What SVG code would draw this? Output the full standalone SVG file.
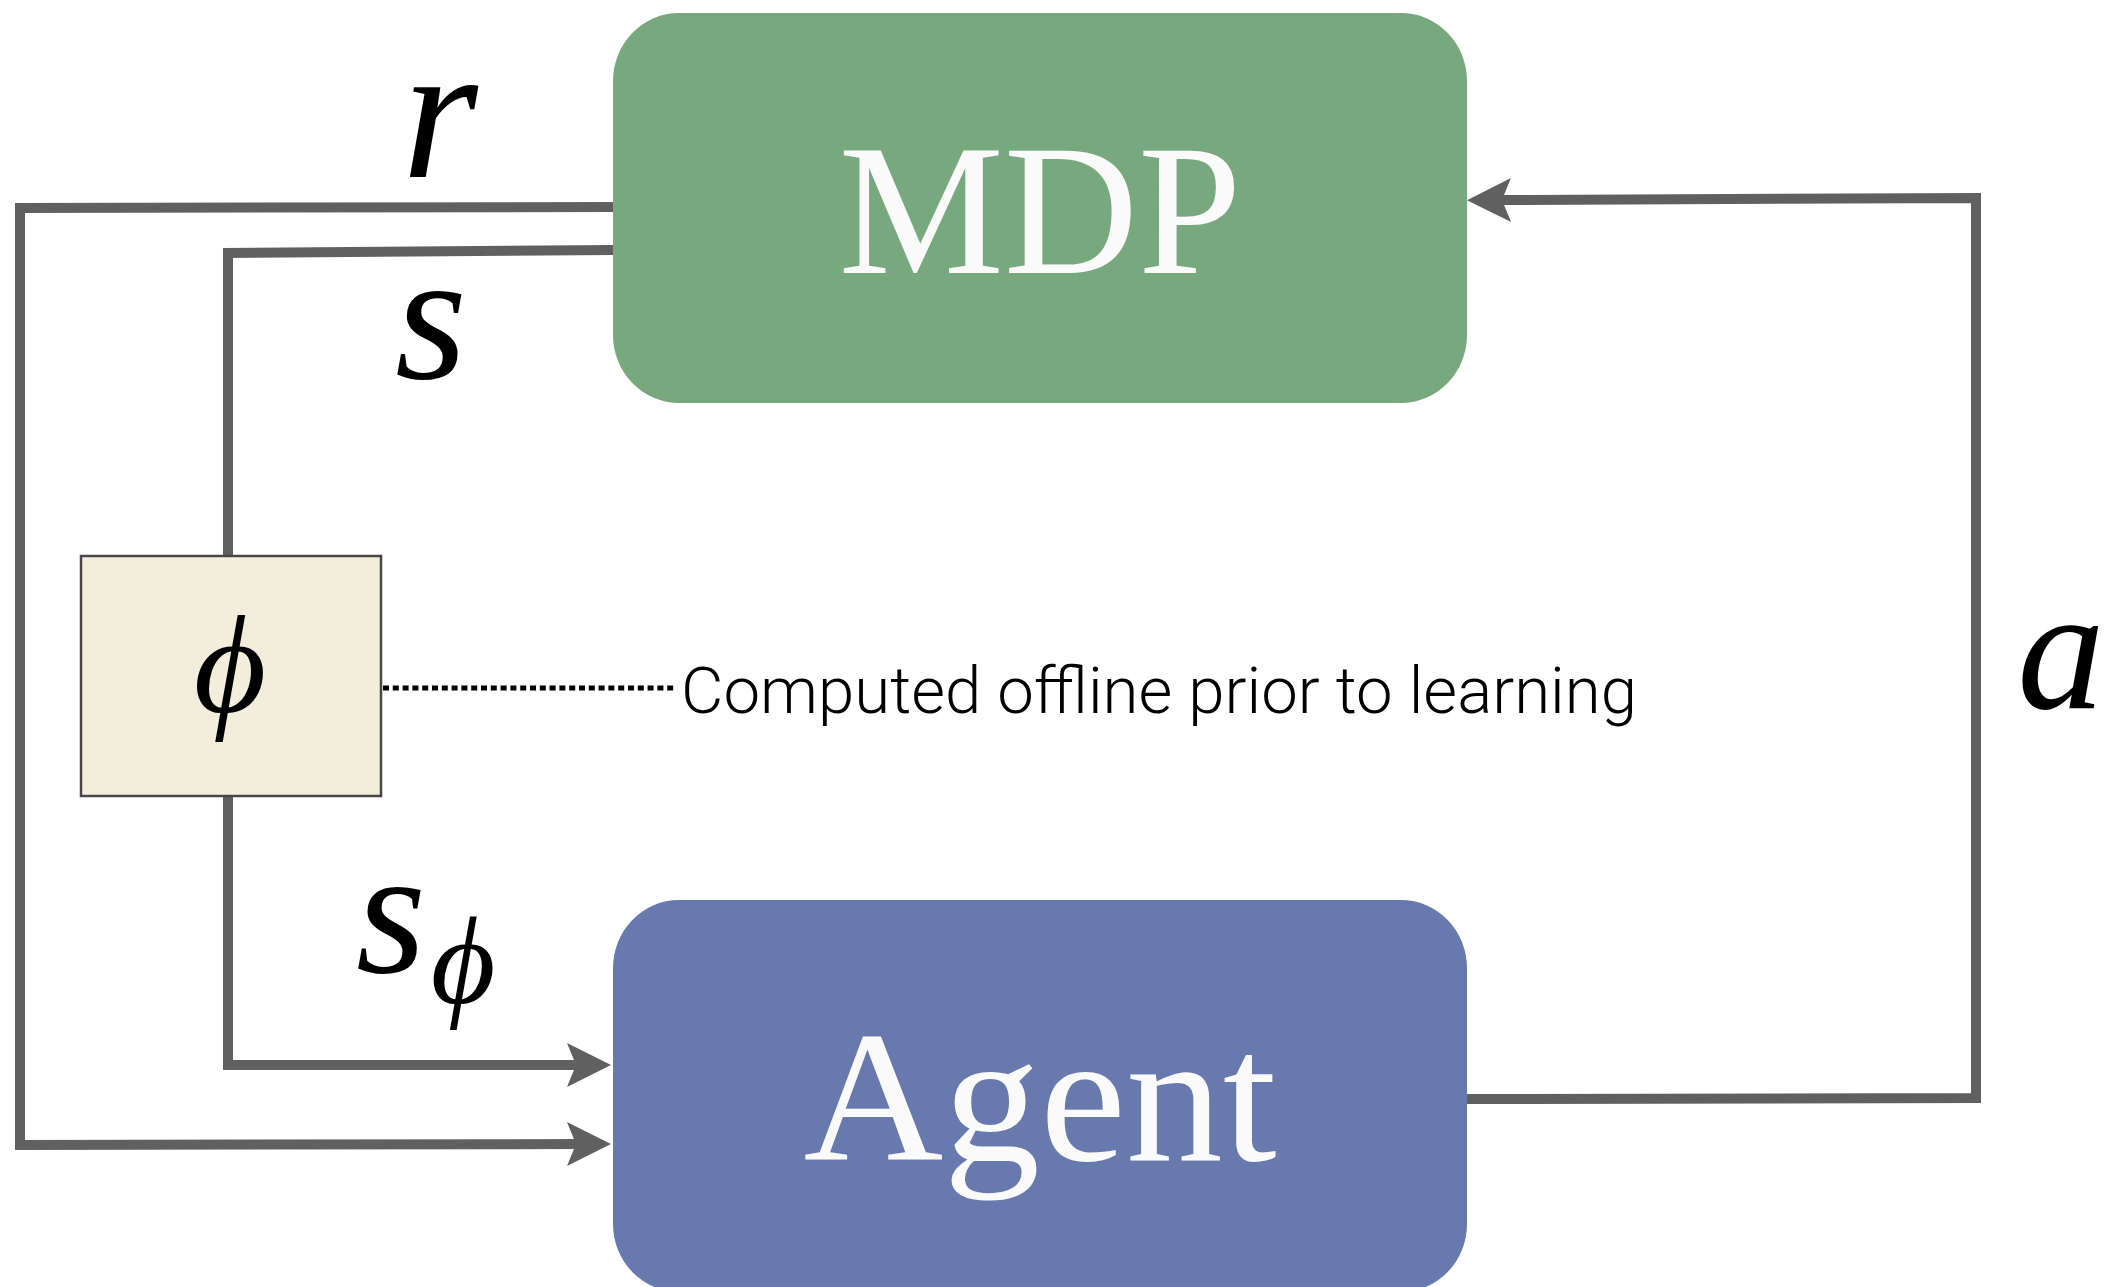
<svg xmlns="http://www.w3.org/2000/svg" width="2107" height="1287" viewBox="0 0 2107 1287">
  <defs>
    <style>
      .wire { fill: none; stroke: #606060; stroke-width: 10; stroke-linejoin: miter; stroke-linecap: butt; }
      .arrowed { marker-end: url(#head); }
      .boxlabel { font-family: "Liberation Serif", "DejaVu Serif", serif; fill: #FAFAFA; font-size: 186px; text-anchor: middle; }
      .math { font-family: "Liberation Serif", "DejaVu Serif", serif; font-style: italic; fill: #000; }
      .note { font-family: Roboto, "Liberation Sans", sans-serif; font-weight: 300; font-size: 65px; fill: #000; }
    </style>
    <!-- notched arrowhead; reference point sits 30px behind the tip so the wire ends inside the head -->
    <marker id="head" markerUnits="userSpaceOnUse" viewBox="-46 -24 48 48" markerWidth="48" markerHeight="48" refX="-30" refY="0" orient="auto" overflow="visible">
      <path d="M0,0 L-44,-22 L-35,0 L-44,22 Z" fill="#606060"/>
    </marker>
  </defs>

  <rect width="2107" height="1287" fill="#FFFFFF"/>

  <!-- connectors -->
  <g id="connectors">
    <!-- reward r: MDP -> Agent -->
    <path class="wire arrowed" d="M613,207 L20,208 L20,1145 L581,1144"/>
    <!-- state s: MDP -> phi -->
    <path class="wire" d="M613,250 L228,253 L228,556"/>
    <!-- abstract state s_phi: phi -> Agent -->
    <path class="wire arrowed" d="M228,796 L228,1065 L581,1065"/>
    <!-- action a: Agent -> MDP -->
    <path class="wire arrowed" d="M1467,1099 L1976,1098 L1976,198 L1497,200"/>
    <!-- dotted annotation leader -->
    <line x1="383" y1="688" x2="675" y2="688" stroke="#000" stroke-width="5" stroke-dasharray="6 3.8"/>
  </g>

  <!-- MDP node -->
  <g id="mdp">
    <rect x="613" y="13" width="854" height="390" rx="66" ry="68" fill="#78A87E"/>
    <text class="boxlabel" x="1040" y="273" textLength="403" lengthAdjust="spacingAndGlyphs">MDP</text>
  </g>

  <!-- Agent node -->
  <g id="agent">
    <rect x="613" y="900" width="854" height="392" rx="66" ry="68" fill="#6879AD"/>
    <text class="boxlabel" x="1040" y="1160" textLength="473" lengthAdjust="spacingAndGlyphs">Agent</text>
  </g>

  <!-- phi node -->
  <g id="phi">
    <rect x="81" y="556" width="300" height="240" fill="#F3EEDC" stroke="#474747" stroke-width="2.5"/>
    <text class="math" x="230" y="712" font-size="140" text-anchor="middle">&#x3D5;</text>
  </g>

  <!-- edge labels -->
  <g id="labels">
    <text class="math" x="440" y="177" font-size="195" text-anchor="middle">r</text>
    <text class="math" x="431" y="378" font-size="185" text-anchor="middle">s</text>
    <text class="math" x="391" y="972" font-size="180" text-anchor="middle">s</text>
    <text class="math" x="463" y="1003" font-size="125" text-anchor="middle">&#x3D5;</text>
    <text class="math" x="2061" y="708" font-size="175" text-anchor="middle">a</text>
    <text class="note" x="681" y="713" textLength="956" lengthAdjust="spacingAndGlyphs">Computed offline prior to learning</text>
  </g>
</svg>
